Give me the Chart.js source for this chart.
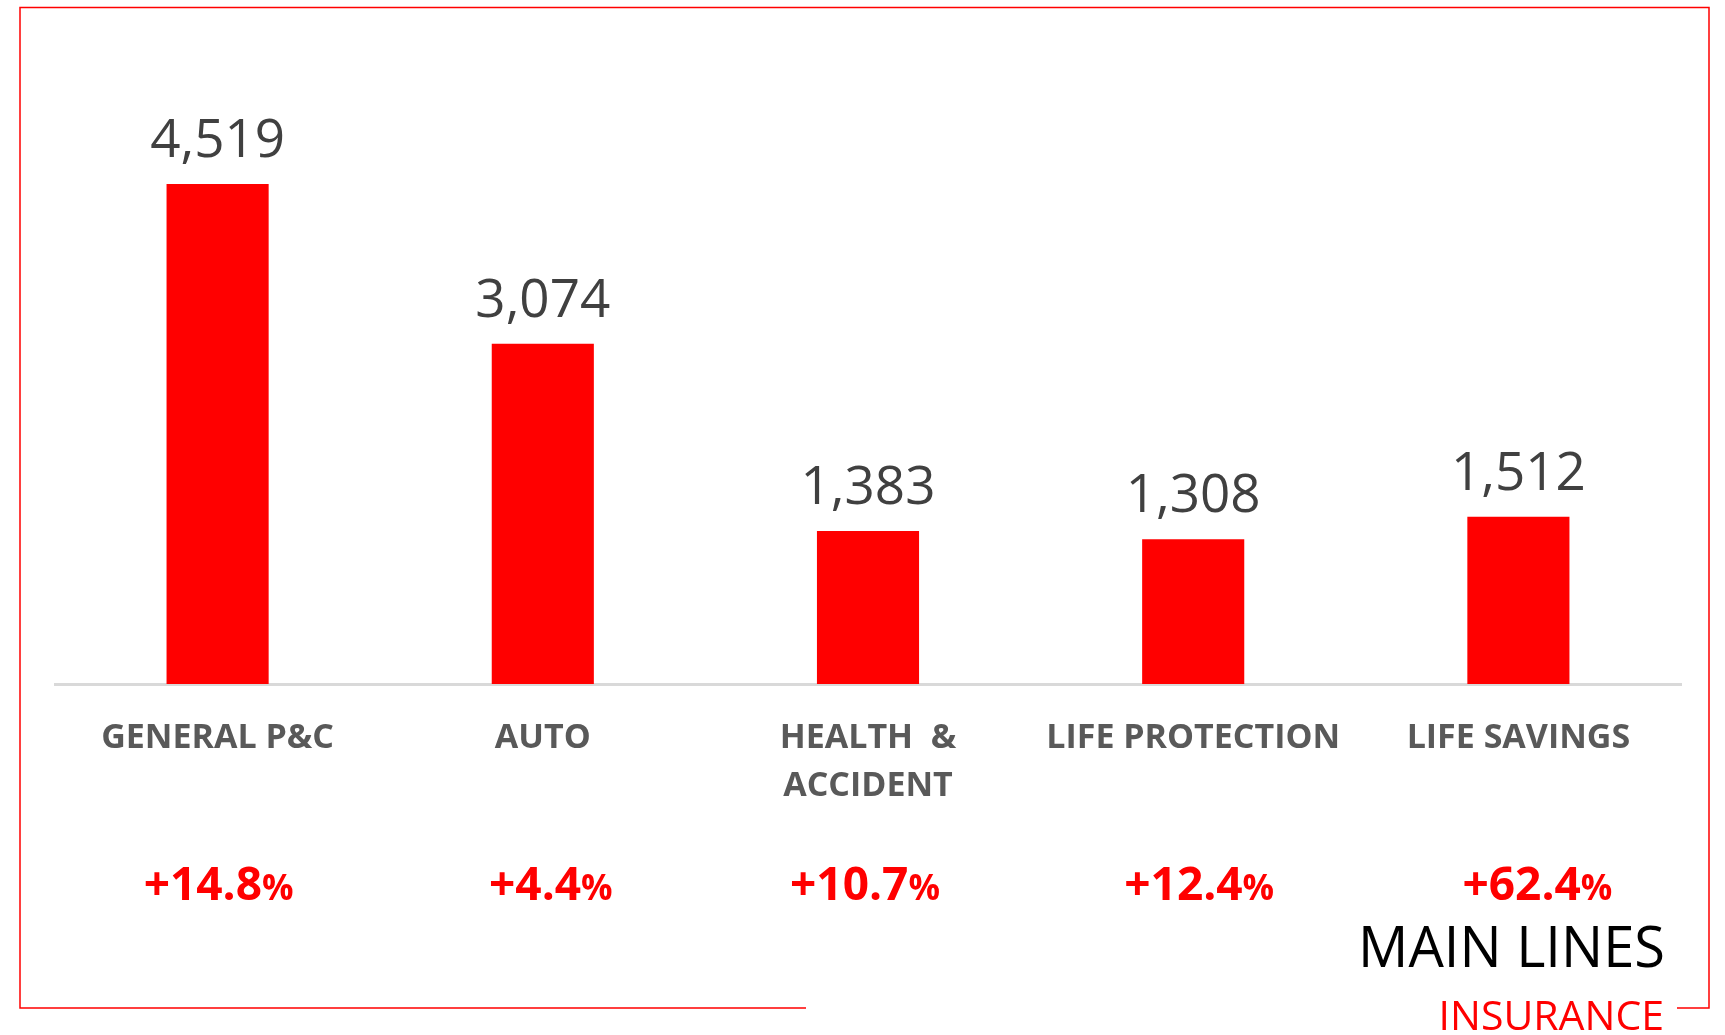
<!DOCTYPE html>
<html>
<head>
<meta charset="utf-8">
<script src="https://cdn.jsdelivr.net/npm/chart.js@4.4.1/dist/chart.umd.min.js"></script>
<style>
  html, body { margin: 0; padding: 0; background: #fff; }
  canvas { display: block; }
</style>
</head>
<body>
<canvas id="barChart" width="1725" height="1035"></canvas>
<script>
// premiums per main line + growth vs previous year
var categories = [['GENERAL P&C'], ['AUTO'], ['HEALTH  &', 'ACCIDENT'], ['LIFE PROTECTION'], ['LIFE SAVINGS']];
var premiums = [4519, 3074, 1383, 1308, 1512];
var growth = ['+14.8', '+4.4', '+10.7', '+12.4', '+62.4'];

var RED = '#ff0000';
// the growth text boxes in the slide are not exactly centred under the bars
var growthNudge = [1, 8, -3, 6, 19];

// value labels above the bars, growth row under the axis, frame and title
var decorations = {
    id: 'decorations',
    afterDatasetsDraw: function (chart) {
        var ctx = chart.ctx;
        var meta = chart.getDatasetMeta(0);
        ctx.save();
        ctx.fillStyle = '#404040';
        ctx.font = '53px "Open Sans"';
        ctx.textAlign = 'center';
        ctx.textBaseline = 'alphabetic';
        meta.data.forEach(function (bar, i) {
            ctx.fillText(premiums[i].toLocaleString('en-US'), bar.x, bar.y - 27);
        });
        ctx.restore();
    },
    afterDraw: function (chart) {
        var ctx = chart.ctx;
        var x = chart.scales.x;
        ctx.save();

        // growth %
        ctx.fillStyle = RED;
        ctx.textBaseline = 'alphabetic';
        ctx.textAlign = 'left';
        growth.forEach(function (g, i) {
            var cx = x.getPixelForValue(i) + growthNudge[i];
            ctx.font = 'bold 46px "Open Sans"';
            var w1 = ctx.measureText(g).width;
            ctx.font = 'bold 35px "Open Sans"';
            var w2 = ctx.measureText('%').width;
            var left = cx - (w1 + w2) / 2;
            ctx.font = 'bold 46px "Open Sans"';
            ctx.fillText(g, left, 900);
            ctx.font = 'bold 35px "Open Sans"';
            ctx.fillText('%', left + w1, 900);
        });

        // frame
        ctx.strokeStyle = RED;
        ctx.lineWidth = 1.5;
        ctx.beginPath();
        ctx.moveTo(806, 1008);
        ctx.lineTo(20, 1008);
        ctx.lineTo(20, 7.5);
        ctx.lineTo(1709, 7.5);
        ctx.lineTo(1709, 1008);
        ctx.lineTo(1677, 1008);
        ctx.stroke();

        // title
        ctx.textAlign = 'right';
        ctx.fillStyle = '#000';
        ctx.font = '56px "Open Sans"';
        ctx.fillText('MAIN LINES', 1665, 967);
        ctx.fillStyle = RED;
        ctx.font = '41px "Open Sans"';
        ctx.fillText('INSURANCE', 1664, 1030);
        ctx.restore();
    }
};

var ctx = document.getElementById('barChart').getContext('2d');
var myChart = new Chart(ctx, {
    type: 'bar',
    data: {
        labels: categories,
        datasets: [{
            label: 'Premiums',
            data: premiums,
            backgroundColor: RED,
            borderWidth: 0,
            barPercentage: 0.314,
            categoryPercentage: 1
        }]
    },
    options: {
        responsive: false,
        animation: false,
        devicePixelRatio: 1,
        layout: { padding: { left: 55, right: 44, top: 20, bottom: 0 } },
        plugins: {
            legend: { display: false },
            tooltip: { enabled: false }
        },
        scales: {
            x: {
                grid: { display: false, drawTicks: false },
                border: { display: true, color: '#d9d9d9', width: 3 },
                ticks: {
                    color: '#595959',
                    font: { family: 'Open Sans', size: 34, weight: 'bold', lineHeight: 1.42 },
                    padding: 30,
                    maxRotation: 0,
                    autoSkip: false
                },
                afterFit: function (scale) { scale.height = 351; }
            },
            y: {
                display: false,
                min: 0,
                max: 6000
            }
        }
    },
    plugins: [decorations]
});
</script>
</body>
</html>
